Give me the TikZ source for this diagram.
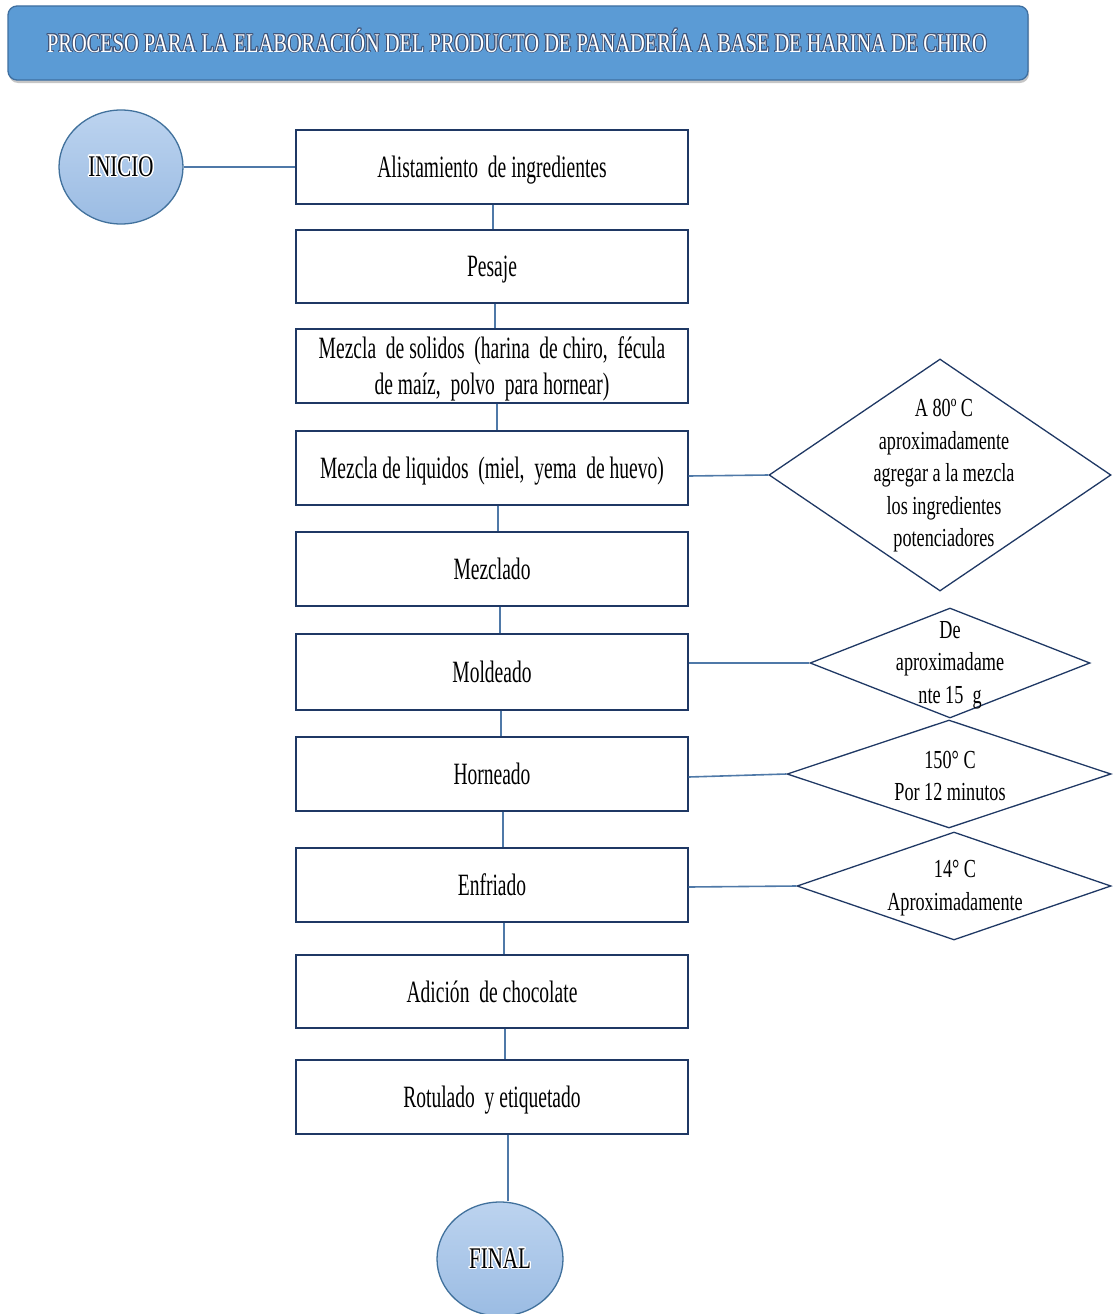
\documentclass[tikz,border=0pt]{standalone}
\usepackage{fontspec}
\setmainfont{Liberation Serif}[FakeStretch=0.7]
\newfontfamily\boxfont{Liberation Serif}[FakeStretch=0.63]
\newfontfamily\diafont{Liberation Serif}[FakeStretch=0.7]
\newfontfamily\titlefont{Liberation Serif}[FakeStretch=0.755]
\usepackage[copies]{contour}
\usetikzlibrary{shapes.geometric,shadows}
\definecolor{bannerfill}{HTML}{5B9BD5}
\definecolor{bannerline}{HTML}{3F6FA0}
\definecolor{navy}{HTML}{1F3864}
\definecolor{conn}{HTML}{4F79A8}
\definecolor{elltop}{HTML}{BCD3EF}
\definecolor{ellbot}{HTML}{9BBCE3}
\definecolor{ellline}{HTML}{41719C}
\tikzset{
  procbox/.style={draw=navy, line width=1.3pt, fill=white, minimum width=392pt,
    minimum height=74pt, align=center, inner sep=0pt, text depth=0pt,
    font=\boxfont\fontsize{31}{36}\selectfont},
  dia/.style={draw=navy, line width=1.3pt, diamond, inner sep=0pt},
  diatext/.style={align=center, inner sep=0pt, font=\diafont\fontsize{26}{32.5}\selectfont},
  conline/.style={draw=conn, line width=1.6pt},
  terminal/.style={ellipse, draw=ellline, line width=1.3pt, top color=elltop,
    bottom color=ellbot, inner sep=0pt},
  termtext/.style={font=\diafont\fontsize{30}{32}\selectfont, text=black},
  titletext/.style={font=\titlefont\fontsize{27}{30}\selectfont},
}
\begin{document}
\begin{tikzpicture}[x=1pt,y=-1pt]
\useasboundingbox (0,0) rectangle (1112,1314);
% title banner
\node[draw=bannerline, line width=1.3pt, fill=bannerfill, rounded corners=9pt,
  minimum width=1020pt, minimum height=74pt,
  drop shadow={shadow xshift=1pt, shadow yshift=-3pt, opacity=0.45}] (title) at (518,43) {};
\contourlength{0.9pt}
\node[titletext] (titlelabel) at (517,41) {\contour{navy!85}{\textcolor{white}{PROCESO PARA LA ELABORACIÓN DEL PRODUCTO DE PANADERÍA A BASE DE HARINA DE CHIRO}}};

% start / end
\node[terminal, minimum width=124pt, minimum height=114pt] (inicio) at (121,167) {};
\node[termtext] (iniciolabel) at (inicio.center) {\contourlength{1.3pt}\contour{white}{INICIO}};

\node[terminal, minimum width=126pt, minimum height=114pt] (final) at (500,1259) {};
\node[termtext] (finallabel) at (final.center) {\contourlength{1.3pt}\contour{white}{FINAL}};

% process boxes
\node[procbox] (b1) at (492,167) {Alistamiento\ \ de ingredientes};
\node[procbox, minimum height=73pt] (b2) at (492,266.5) {Pesaje};
\node[procbox] (b3) at (492,366) {Mezcla\ \ de solidos\ \ (harina\ \ de chiro,\ \ fécula\\de maíz,\ \ polvo\ \ para\ hornear)};
\node[procbox] (b4) at (492,468) {Mezcla de liquidos\ \ (miel,\ \ yema\ \ de huevo)};
\node[procbox] (b5) at (492,569) {Mezclado};
\node[procbox, minimum height=76pt] (b6) at (492,672) {Moldeado};
\node[procbox] (b7) at (492,774) {Horneado};
\node[procbox] (b8) at (492,885) {Enfriado};
\node[procbox, minimum height=73pt] (b9) at (492,991.5) {Adición\ \ de chocolate};
\node[procbox] (b10) at (492,1097) {Rotulado\ \ y etiquetado};

% diamonds
\node[dia, minimum width=342pt, minimum height=232pt] (d1) at (940,475) {};
\node[diatext] (d1t) at (944,476) {A 80º C\\aproximadamente\\agregar a la mezcla\\los ingredientes\\potenciadores};
\node[dia, minimum width=280pt, minimum height=110pt] (d2) at (950,663) {};
\node[diatext] (d2t) at (950,665) {De\\aproximadame\\nte 15\ \ g};
\node[dia, minimum width=324pt, minimum height=108pt] (d3) at (949,774) {};
\node[diatext] (d3t) at (950,776) {150° C\\Por 12 minutos};
\node[dia, minimum width=314pt, minimum height=108pt] (d4) at (954,886) {};
\node[diatext] (d4t) at (955,888) {14° C\\Aproximadamente};

% connectors
\draw[conline] (inicio.east) -- (b1.west);
\draw[conline] ([xshift=1pt]b1.south) -- ([xshift=1pt]b1.south |- b2.north);
\draw[conline] ([xshift=3pt]b2.south) -- ([xshift=3pt]b2.south |- b3.north);
\draw[conline] ([xshift=5pt]b3.south) -- ([xshift=5pt]b3.south |- b4.north);
\draw[conline] ([xshift=6pt]b4.south) -- ([xshift=6pt]b4.south |- b5.north);
\draw[conline] ([xshift=8pt]b5.south) -- ([xshift=8pt]b5.south |- b6.north);
\draw[conline] ([xshift=9pt]b6.south) -- ([xshift=9pt]b6.south |- b7.north);
\draw[conline] ([xshift=11pt]b7.south) -- ([xshift=11pt]b7.south |- b8.north);
\draw[conline] ([xshift=12pt]b8.south) -- ([xshift=12pt]b8.south |- b9.north);
\draw[conline] ([xshift=13pt]b9.south) -- ([xshift=13pt]b9.south |- b10.north);
\draw[conline] ([xshift=16pt]b10.south) -- ([xshift=16pt]b10.south |- final.north);
\draw[conline] ([yshift=-8pt]b4.east) -- (d1.west);
\draw[conline] ([yshift=9pt]b6.east) -- (d2.west);
\draw[conline] ([yshift=-3pt]b7.east) -- (d3.west);
\draw[conline] ([yshift=-2pt]b8.east) -- (d4.west);
\end{tikzpicture}
\end{document}
